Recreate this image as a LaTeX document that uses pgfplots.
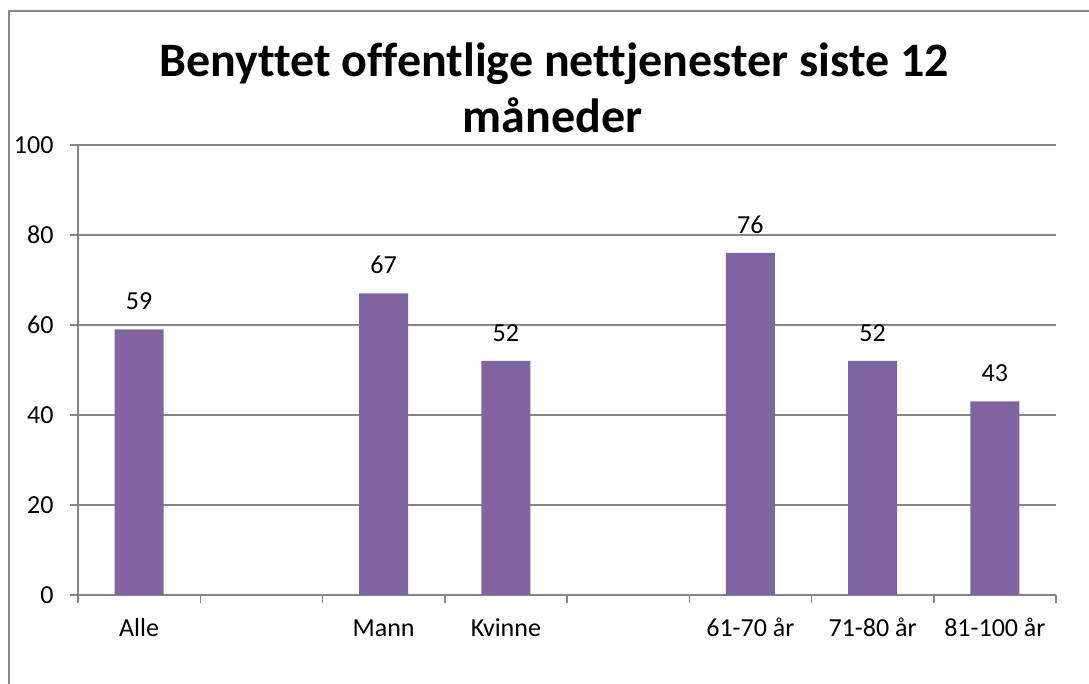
\documentclass[border=0pt]{standalone}
\usepackage{pgfplots}
\pgfplotsset{compat=1.18}
\usepackage{fontspec}
\setmainfont{Carlito}[Ligatures={NoCommon}]
\definecolor{barc}{HTML}{8064A2}
\definecolor{gridc}{HTML}{868686}
\begin{document}
\begin{tikzpicture}[x=1pt,y=1pt]
\useasboundingbox (0,0) rectangle (1089,684);
\draw[gridc, line width=2pt] (9,-5) -- (9,673) -- (1095,673);
\node[anchor=base, inner sep=0pt, font=\fontsize{48}{56}\selectfont\bfseries] at (554,607) {Benyttet offentlige nettjenester siste 12};
\node[anchor=base, inner sep=0pt, font=\fontsize{48}{56}\selectfont\bfseries] at (552.5,551) {måneder};
\begin{axis}[
  at={(78pt,89pt)}, anchor=south west,
  scale only axis, width=978pt, height=450pt,
  xmin=-0.5, xmax=7.5, ymin=0, ymax=100,
  axis x line*=bottom, axis y line*=left,
  axis line style={gridc, line width=1.5pt},
  ytick={0,20,40,60,80,100},
  xtick={-0.5,0.5,1.5,2.5,3.5,4.5,5.5,6.5,7.5},
  xticklabels={Alle,,Mann,Kvinne,,61-70 år,71-80 år,81-100 år,},
  xticklabel style={anchor=base, xshift=61.125pt, yshift=-34pt},
  yticklabel style={anchor=east, xshift=-13pt},
  /pgf/number format/assume math mode=true,
  tick align=outside, major tick length=8pt,
  tick style={gridc, line width=1.5pt},
  ymajorgrids, grid style={gridc, line width=1.5pt},
  ticklabel style={font=\fontsize{26}{31}\selectfont},
  ybar, bar width=49pt, bar shift=0pt,
  nodes near coords,
  nodes near coords style={font=\fontsize{26}{31}\selectfont, anchor=base, yshift=19.5pt, inner sep=0pt, text=black},
  clip=false,
]
\addplot[fill=barc, draw=none] coordinates {(0,59) (2,67) (3,52) (5,76) (6,52) (7,43)};
\end{axis}
\end{tikzpicture}
\end{document}
